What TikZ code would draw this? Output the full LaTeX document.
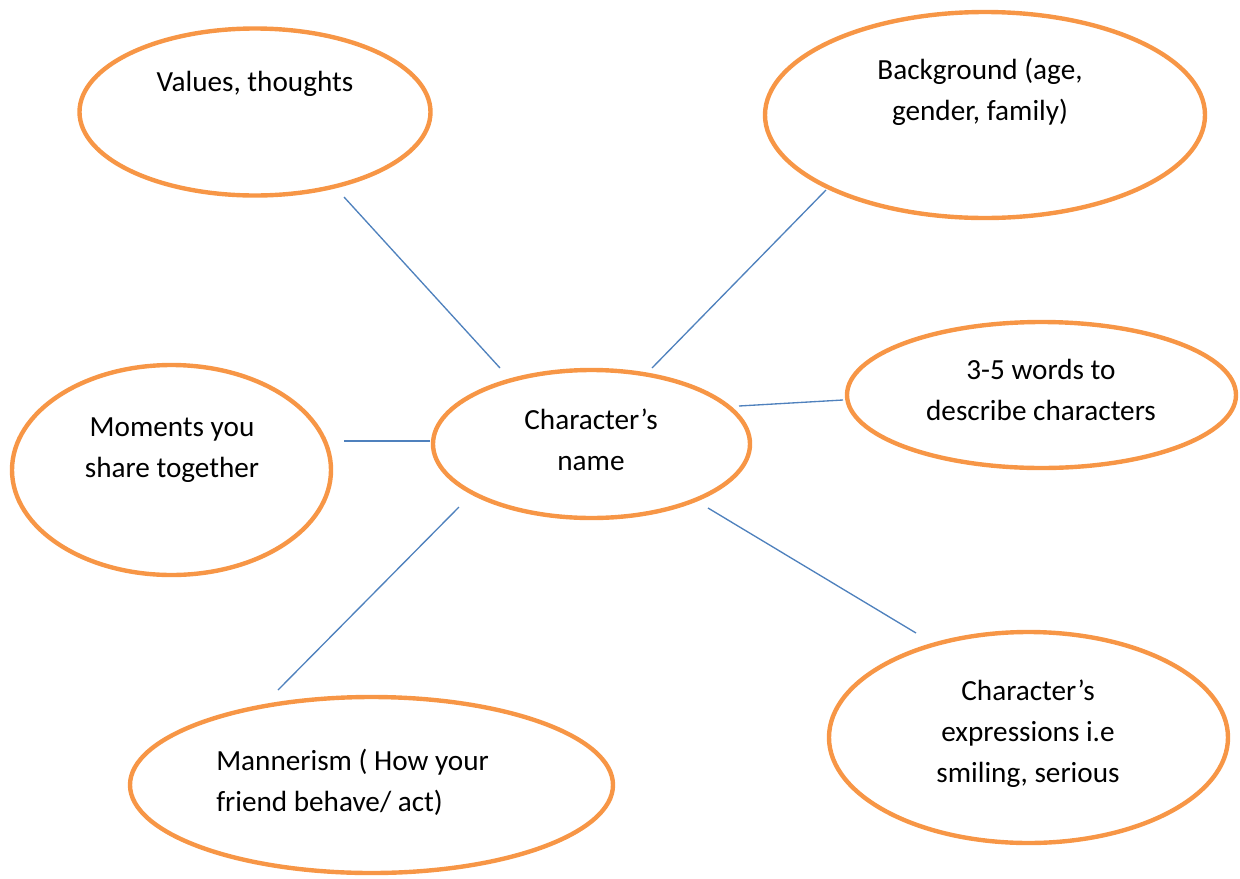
\documentclass[tikz,border=0pt]{standalone}
\usepackage{fontspec}
\setmainfont{Carlito}
\usetikzlibrary{shapes.geometric}
\definecolor{ovalc}{HTML}{F79646}
\definecolor{linec}{HTML}{4F81BD}
\begin{document}
\begin{tikzpicture}[x=0.75pt,y=-0.75pt,
  oval/.style={draw=ovalc,line width=3.3pt,ellipse,inner sep=0pt},
  sz/.style 2 args={minimum width=#1*0.75pt,minimum height=#2*0.75pt},
  lbl/.style={align=center,font=\fontsize{21.9}{30.75}\selectfont,inner sep=0pt},
  conn/.style={draw=linec,line width=1pt}]
\useasboundingbox (0,0) rectangle (1240,879);
% ovals
\node[oval,sz={351}{167}] (vals) at (255,112) {};
\node[oval,sz={440}{206}] (back) at (985,115) {};
\node[oval,sz={389}{146}] (words) at (1041.5,395) {};
\node[oval,sz={317}{148}] (name) at (591.5,444) {};
\node[oval,sz={319}{210}] (mom) at (171.5,470) {};
\node[oval,sz={483}{176}] (mann) at (371.5,785) {};
\node[oval,sz={399}{211}] (expr) at (1028.5,737.5) {};
% texts
\node[lbl] (tvals) at (255,84) {Values, thoughts};
\node[lbl] (tback) at (980,92) {Background (age,\\gender, family)};
\node[lbl] (twords) at (1041,390) {3-5 words to\\describe characters};
\node[lbl] (tname) at (591,440) {Character’s\\name};
\node[lbl] (tmom) at (172,450) {Moments you\\share together};
\node[lbl,align=left,anchor=west] (tmann) at (216,782) {Mannerism ( How your\\friend behave/ act)};
\node[lbl] (texpr) at (1028,734) {Character’s\\expressions i.e\\smiling, serious};
% connector ends
\coordinate (a1) at (344,197); \coordinate (a2) at (500,368);
\coordinate (b1) at (652,368); \coordinate (b2) at (826,190);
\coordinate (c1) at (739,406); \coordinate (c2) at (843,400);
\coordinate (d1) at (344,441); \coordinate (d2) at (430,441);
\coordinate (e1) at (459,507); \coordinate (e2) at (278,690);
\coordinate (f1) at (708,508); \coordinate (f2) at (916,633);
\draw[conn] (a1) -- (a2);
\draw[conn] (b1) -- (b2);
\draw[conn] (c1) -- (c2);
\draw[conn] (d1) -- (d2);
\draw[conn] (e1) -- (e2);
\draw[conn] (f1) -- (f2);
\end{tikzpicture}
\end{document}
